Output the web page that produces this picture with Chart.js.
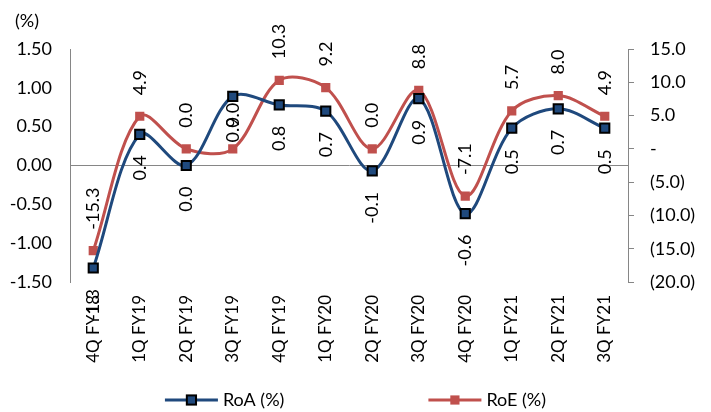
<!DOCTYPE html>
<html>
<head>
<meta charset="utf-8">
<script src="https://cdn.jsdelivr.net/npm/chart.js@4.4.1/dist/chart.umd.min.js"></script>
<style>
  html, body { margin: 0; padding: 0; background: #ffffff; }
  #wrap { width: 711px; height: 412px; position: relative; }
</style>
</head>
<body>
<div id="wrap"><canvas id="c" width="711" height="412"></canvas></div>
<script>
// Quarterly return ratios
const quarters = ['4Q FY18', '1Q FY19', '2Q FY19', '3Q FY19', '4Q FY19', '1Q FY20',
                  '2Q FY20', '3Q FY20', '4Q FY20', '1Q FY21', '2Q FY21', '3Q FY21'];
const roa = [-1.32, 0.40, 0.00, 0.89, 0.78, 0.70, -0.07, 0.86, -0.62, 0.48, 0.73, 0.48];
const roe = [-15.3, 4.9, 0.0, 0.0, 10.3, 9.2, 0.0, 8.8, -7.1, 5.7, 8.0, 4.9];
const seriesNames = ['RoA (%)', 'RoE (%)'];
const unitLabel = '(%)';

const AXIS_GREY = '#868686';
const BLUE = '#1F497D';
const RED = '#C0504D';

Chart.defaults.font.family = 'Lato, "Open Sans", sans-serif';
Chart.defaults.font.size = 18;
Chart.defaults.color = '#000000';

// Accounting-style figures for the RoE axis
function accounting(v) {
  if (v === 0) return '-';
  return v < 0 ? '(' + (-v).toFixed(1) + ')' : v.toFixed(1);
}

// Rotated value labels: RoA below its points, RoE above
const valueLabels = {
  id: 'valueLabels',
  afterDatasetsDraw(chart) {
    const ctx = chart.ctx;
    ctx.save();
    ctx.font = '18px Lato, "Open Sans", sans-serif';
    ctx.fillStyle = '#000000';
    ctx.textBaseline = 'middle';
    chart.data.datasets.forEach((ds, i) => {
      const meta = chart.getDatasetMeta(i);
      const below = ds.labelSide === 'below';
      meta.data.forEach((pt, j) => {
        const txt = ds.data[j].toFixed(1);
        ctx.save();
        ctx.translate(pt.x, pt.y + (below ? 21 : -21));
        ctx.rotate(-Math.PI / 2);
        ctx.textAlign = below ? 'right' : 'left';
        ctx.fillText(txt, 0, 0);
        ctx.restore();
      });
    });
    ctx.restore();
  }
};

// Unit caption over the left axis and a line-with-marker legend at the bottom
const extras = {
  id: 'extras',
  afterDraw(chart) {
    const ctx = chart.ctx;
    ctx.save();
    ctx.font = '18px Lato, "Open Sans", sans-serif';
    ctx.fillStyle = '#000000';
    ctx.textBaseline = 'middle';
    ctx.textAlign = 'left';
    ctx.fillText(unitLabel, 15, 21);

    const lineLen = 53, gapText = 5, gapItems = 144;
    const items = chart.data.datasets.map(ds => ({ ds, w: ctx.measureText(ds.label).width }));
    const total = items.reduce((s, it) => s + lineLen + gapText + it.w, 0) + gapItems * (items.length - 1);
    let x = (chart.width - total) / 2;
    const y = chart.height - 12;
    items.forEach(({ ds, w }) => {
      ctx.strokeStyle = ds.borderColor;
      ctx.lineWidth = 3;
      ctx.beginPath();
      ctx.moveTo(x, y);
      ctx.lineTo(x + lineLen, y);
      ctx.stroke();
      const cx = x + lineLen / 2;
      const side = ds.pointRadius * Math.SQRT2;
      ctx.fillStyle = ds.pointBackgroundColor;
      ctx.fillRect(cx - side / 2, y - side / 2, side, side);
      if (ds.pointBorderWidth > 0) {
        ctx.strokeStyle = ds.pointBorderColor;
        ctx.lineWidth = ds.pointBorderWidth;
        ctx.strokeRect(cx - side / 2, y - side / 2, side, side);
      }
      ctx.fillStyle = '#000000';
      ctx.fillText(ds.label, x + lineLen + gapText, y);
      x += lineLen + gapText + w + gapItems;
    });
    ctx.restore();
  }
};

new Chart(document.getElementById('c'), {
  type: 'line',
  data: {
    labels: quarters,
    datasets: [
      {
        label: seriesNames[0],
        data: roa,
        yAxisID: 'yL',
        labelSide: 'below',
        borderColor: BLUE,
        borderWidth: 3,
        tension: 0.33,
        pointStyle: 'rect',
        pointRadius: 6.5,
        pointBackgroundColor: BLUE,
        pointBorderColor: '#000000',
        pointBorderWidth: 2
      },
      {
        label: seriesNames[1],
        data: roe,
        yAxisID: 'yR',
        labelSide: 'above',
        borderColor: RED,
        borderWidth: 3,
        tension: 0.33,
        pointStyle: 'rect',
        pointRadius: 6.5,
        pointBackgroundColor: RED,
        pointBorderColor: RED,
        pointBorderWidth: 0
      }
    ]
  },
  options: {
    responsive: false,
    animation: false,
    devicePixelRatio: 1,
    layout: { padding: { top: 49, left: 0, right: 0, bottom: 0 } },
    plugins: {
      legend: { display: false },
      tooltip: { enabled: false }
    },
    scales: {
      x: {
        offset: true,
        border: { display: false },
        grid: { display: false, drawTicks: false },
        ticks: {
          autoSkip: false,
          minRotation: 90,
          maxRotation: 90,
          padding: 13,
          font: { size: 17 }
        },
        afterFit(scale) { scale.height = 130; }
      },
      yL: {
        position: 'left',
        min: -1.5,
        max: 1.5,
        border: { display: true, color: AXIS_GREY, width: 1 },
        grid: {
          drawTicks: false,
          color: c => (c.tick && c.tick.value === 0 ? AXIS_GREY : 'rgba(0,0,0,0)'),
          lineWidth: 1
        },
        ticks: {
          stepSize: 0.5,
          padding: 18,
          callback: v => Number(v).toFixed(2)
        },
        afterFit(scale) { scale.width = 70; }
      },
      yR: {
        position: 'right',
        min: -20,
        max: 15,
        border: { display: true, color: AXIS_GREY, width: 1 },
        grid: {
          drawOnChartArea: false,
          drawTicks: true,
          tickLength: 6,
          color: AXIS_GREY
        },
        ticks: {
          stepSize: 5,
          padding: 16,
          callback: v => accounting(Number(v))
        },
        afterFit(scale) { scale.width = 83; }
      }
    }
  },
  plugins: [valueLabels, extras]
});
</script>
</body>
</html>
